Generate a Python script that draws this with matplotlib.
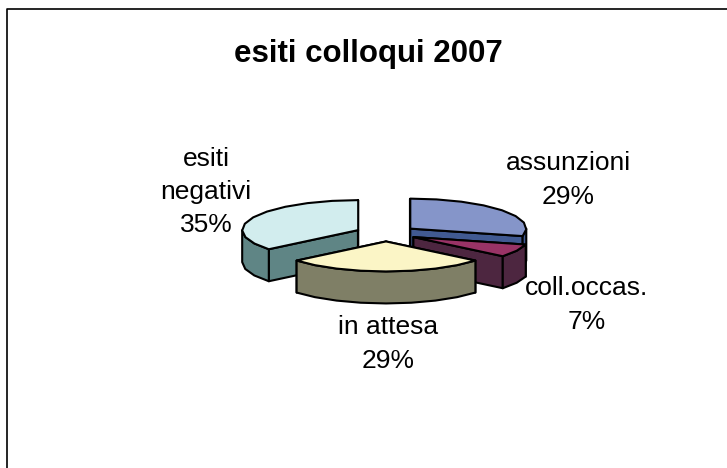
import numpy as np
import matplotlib
matplotlib.use('Agg')
import matplotlib.pyplot as plt
from matplotlib.patches import Polygon

plt.rcParams['font.family'] = ['Liberation Sans', 'DejaVu Sans']

labels = ['assunzioni', 'coll.occas.', 'in attesa', 'esiti\nnegativi']
percent = [29, 7, 29, 35]        # as printed on the labels
shares = [29, 7, 28, 36]
top_colors = ['#8595c9', '#993366', '#fbf5c6', '#d2edee']
side_colors = ['#415a92', '#4d2640', '#7f7f66', '#5f8585']

W, H = 727, 468
CX, CY = 386, 233.5     # pie centre in pixels
RX, RY = 116, 30        # squashed ellipse of the pie top
DEPTH = 32
EXPLODE = 0.265
STEP = 12               # the original rim is coarse and slightly faceted


def rim(a0, a1, vx, vy):
    n = max(int(abs(a1 - a0) / STEP), 1) + 1
    t = np.radians(np.linspace(a0, a1, n))
    return np.column_stack([vx + RX * np.sin(t), vy - RY * np.cos(t)])


def draw_slice(ax, a0, a1, top, side):
    mid = np.radians((a0 + a1) / 2)
    vx = CX + EXPLODE * RX * np.sin(mid)
    vy = CY - EXPLODE * RY * np.cos(mid)
    edge = dict(edgecolor='black', linewidth=1.5, joinstyle='round')
    drop = np.array([0, DEPTH])
    for a in (a0, a1):
        p = rim(a, a, vx, vy)[0]
        quad = [(vx, vy), p, p + drop, (vx, vy + DEPTH)]
        ax.add_patch(Polygon(quad, facecolor=side, **edge))
    # outer wall only where the rim faces the viewer
    lo, hi = max(a0, 90), min(a1, 270)
    if lo < hi:
        r = rim(lo, hi, vx, vy)
        ax.add_patch(Polygon(np.vstack([r, r[::-1] + drop]), facecolor=side, **edge))
    r = rim(a0, a1, vx, vy)
    ax.add_patch(Polygon(np.vstack([[(vx, vy)], r]), facecolor=top, **edge))


fig = plt.figure(figsize=(W / 100, H / 100), dpi=100)
ax = fig.add_axes([0, 0, 1, 1])
ax.set_xlim(0, W)
ax.set_ylim(H, 0)
ax.axis('off')

# frame is cropped: only the top and left edges are in the picture
ax.plot([6.5, 6.5, 727], [468, 9, 9], color='black', lw=1.2)

edges = np.cumsum([0] + shares) / sum(shares) * 360
for i in [0, 3, 1, 2]:
    draw_slice(ax, edges[i], edges[i + 1], top_colors[i], side_colors[i])

ax.text(368, 54, 'esiti colloqui 2007', fontsize=22.5, fontweight='bold', ha='center', va='center')

label_pos = [(568, 180), (587, 305), (388, 344), (206, 192)]
for name, pct, pos in zip(labels, percent, label_pos):
    ax.text(pos[0], pos[1], f'{name}\n{pct}%', fontsize=19, ha='center', va='center', linespacing=1.5)

fig.savefig('out.png', dpi=100)
